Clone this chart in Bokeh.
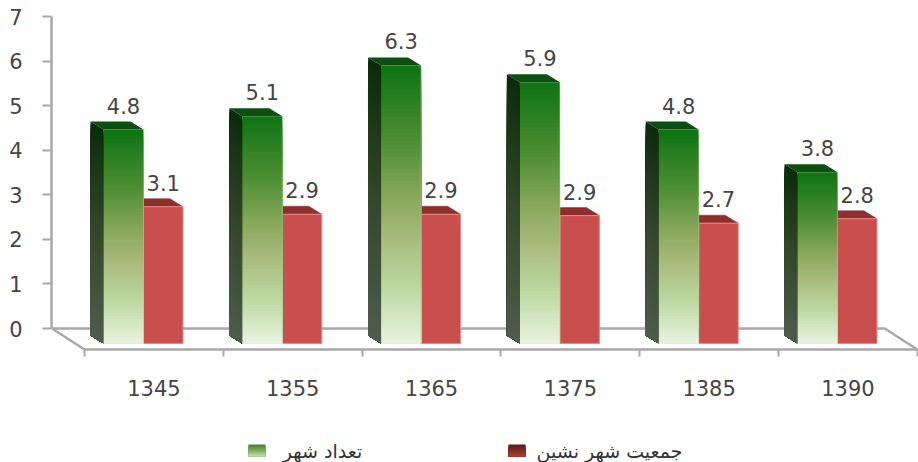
from bokeh.embed import file_html
from bokeh.resources import INLINE
from bokeh.models import FixedTicker, Range1d
from bokeh.plotting import figure
from bokeh.core.properties import value as V

years = ["1345", "1355", "1365", "1375", "1385", "1390"]
city_labels = ["4.8", "5.1", "6.3", "5.9", "4.8", "3.8"]
urban_labels = ["3.1", "2.9", "2.9", "2.9", "2.7", "2.8"]
# bar heights as drawn in the picture (they differ a little from the printed labels)
city_count = [4.8, 5.1, 6.24, 5.86, 4.8, 3.84]
urban_pop = [3.07, 2.9, 2.9, 2.87, 2.7, 2.8]
legend_labels = ["تعداد شهر", "جمعیت شهر نشین"]
y_ticks = [0, 1, 2, 3, 4, 5, 6, 7]

PX_X = 138.8
PX_Y = 44.57
dx_bar, dy_bar = 13 / PX_X, 8 / PX_Y
dx_floor, dy_floor = 32.5 / PX_X, 21 / PX_Y
base = -15 / PX_Y
g_l, g_r = 19 / PX_X, 59 / PX_X
r_l, r_r = 59 / PX_X, 98.5 / PX_X
FONT = "DejaVu Sans"
TXT = "#454545"
GREY = "#a8a8a8"

def lerp(stops, t):
    for (a, ca), (b, cb) in zip(stops, stops[1:]):
        if t <= b:
            k = (t - a) / (b - a)
            c = [round(int(ca[i:i+2], 16) * (1 - k) + int(cb[i:i+2], 16) * k) for i in (1, 3, 5)]
            return "#%02x%02x%02x" % tuple(c)
    return stops[-1][1]

G_FRONT = [(0, "#0e7413"), (.25, "#488c30"), (.5, "#8fab60"), (.62, "#a8ba7c"), (.8, "#bcd8a0"), (1, "#e9f3e0")]
G_SIDE = [(0, "#0a2c0a"), (.5, "#34472a"), (1, "#4e5d4b")]
G_SWATCH = [(0, "#3f7d33"), (.5, "#7fae62"), (1, "#c4dfae")]
R_SWATCH = [(0, "#5a1715"), (1, "#a8403c")]

p = figure(width=918, height=462, output_backend="svg", toolbar_location=None,
           x_range=Range1d((51 - 84) / PX_X, (918 - 84) / PX_X),
           y_range=Range1d((328 - 462) / PX_Y, 328 / PX_Y),
           min_border_left=51, min_border_right=0, min_border_top=0, min_border_bottom=0)
p.outline_line_color = None
p.grid.visible = False

# axes
ya = p.yaxis[0]
ya.ticker = FixedTicker(ticks=y_ticks)
ya.bounds = (0, 7)
xa = p.xaxis[0]
xa.fixed_location = -dy_floor
xa.bounds = (0, 6)
xa.ticker = FixedTicker(ticks=[i + .5 for i in range(6)], minor_ticks=list(range(7)))
xa.major_label_overrides = {i + .5: y for i, y in enumerate(years)}
for a in (xa, ya):
    a.axis_line_color = GREY
    a.axis_line_width = 2.5
    a.major_tick_in = 0
    a.minor_tick_in = 0
    a.major_label_text_font = FONT
    a.major_label_text_font_size = "21px"
    a.major_label_text_color = TXT
    a.major_tick_line_color = GREY
    a.major_tick_line_width = 2
ya.major_tick_out = 9
ya.minor_tick_out = 0
ya.major_label_standoff = 20
xa.major_tick_out = 0
xa.major_tick_line_color = None
xa.minor_tick_out = 7
xa.minor_tick_line_color = GREY
xa.minor_tick_line_width = 2
xa.major_label_standoff = 23

# floor edges
p.line([0, -dx_floor, 6 - dx_floor, 6], [-dy_floor, 0, 0, -dy_floor], line_color=GREY, line_width=2.5)

N = 70
# red bars
rx, ry, rc = [], [], []
for i, v in enumerate(urban_pop):
    l, r = i + r_l, i + r_r
    rx.append([l - dx_bar, r - dx_bar, r, l])
    ry.append([v + base + dy_bar] * 2 + [v + base] * 2)
    rc.append("#8f2f2d")
p.patches(rx, ry, fill_color=rc, line_color=rc, line_width=.5)
p.quad(left=[i + r_l for i in range(6)], right=[i + r_r for i in range(6)],
       bottom=base, top=[v + base for v in urban_pop],
       fill_color="#c94f4e", line_color="#e58a84", line_width=1)

# green bars: each slice runs down to the bar's foot and is painted over by the next
xs, ys, cs = [], [], []
for i, v in enumerate(city_count):
    l, r = i + g_l, i + g_r
    xs.append([l - dx_bar, r - dx_bar, r, l])
    ys.append([v + base + dy_bar] * 2 + [v + base] * 2)
    cs.append("#0d4f10")
    for k in range(N):
        y0 = v + base - v * k / N
        xs.append([l, r, r, l])
        ys.append([y0, y0, base, base])
        cs.append(lerp(G_FRONT, (k + .5) / N))
        xs.append([l - dx_bar, l, l, l - dx_bar])
        ys.append([y0 + dy_bar, y0, base, base + dy_bar])
        cs.append(lerp(G_SIDE, (k + .5) / N))
p.patches(xs, ys, fill_color=cs, line_color=None)
p.segment([i + g_r for i in range(6)], [v + base for v in city_count],
          [i + g_r for i in range(6)], [base] * 6, line_color="#9ad48c", line_alpha=.6, line_width=1)

# value labels
lab_x = [i + (g_l + g_r) / 2 for i in range(6)] + [i + (r_l + r_r) / 2 for i in range(6)]
p.text(lab_x, [v + base for v in city_count + urban_pop], text=city_labels + urban_labels, text_font=V(FONT),
       text_font_size="21px", text_color=TXT, text_align="center", text_baseline="middle", y_offset=-24)

# legend, drawn with the same scales so that its swatches can carry a gradient
leg_y = (328 - 450) / PX_Y
sw_h = 12 / PX_Y
sw_w = 17 / PX_X
leg_items = [((248 - 84) / PX_X, (322 - 84) / PX_X, G_SWATCH), ((508 - 84) / PX_X, (609 - 84) / PX_X, R_SWATCH)]
sx, sy, sc = [], [], []
M = 10
for x0, _, stops in leg_items:
    for k in range(M):
        y0 = leg_y + sw_h / 2 - sw_h * k / M
        sx.append([x0, x0 + sw_w, x0 + sw_w, x0])
        sy.append([y0, y0, leg_y - sw_h / 2, leg_y - sw_h / 2])
        sc.append(lerp(stops, (k + .5) / M))
p.patches(sx, sy, fill_color=sc, line_color=None)
p.text([it[1] for it in leg_items], [leg_y] * 2, text=legend_labels, text_font=V(FONT),
       text_font_size="19px", text_color="#333333", text_align="center", text_baseline="middle")

open("out.html", "w").write(file_html(p, INLINE))
